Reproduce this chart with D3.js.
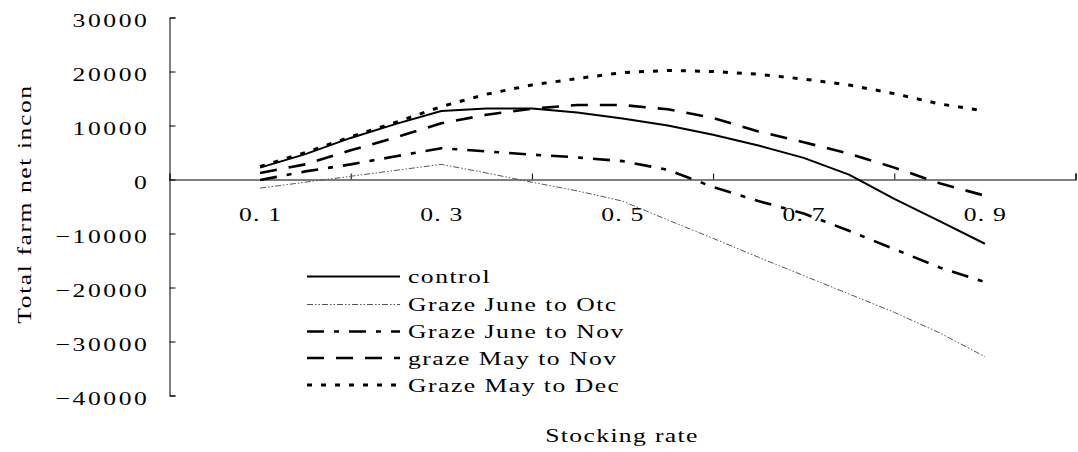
<!DOCTYPE html>
<html><head><meta charset="utf-8">
<script src="https://cdn.jsdelivr.net/npm/d3@7"></script>
<style>
body{margin:0;background:#fff;}
</style>
</head><body>
<svg id="chart" width="1078" height="452"></svg>
<script>
// ---- data ----
const rates = [0.1,0.15,0.2,0.25,0.3,0.35,0.4,0.45,0.5,0.55,0.6,0.65,0.7,0.75,0.8,0.85,0.9];
const control      = [2200,4700,7700,10300,12700,13150,13150,12400,11300,10000,8300,6300,4000,900,-3600,-7700,-11900];
const grazeJuneOtc = [-1600,-500,600,1700,2800,1200,-500,-2100,-4000,-7500,-10900,-14400,-17800,-21200,-24600,-28400,-32800];
const grazeJuneNov = [-100,1500,2800,4300,5800,5200,4600,4100,3400,1800,-1400,-4000,-6300,-9500,-12900,-16300,-19000];
const grazeMayNov  = [1200,2800,5400,7800,10400,12000,13100,13800,13800,13000,11400,8900,6900,4800,2200,-700,-3000];
const grazeMayDec  = [2400,5000,7900,10600,13500,15800,17500,18700,19800,20200,20000,19500,18600,17500,15900,14000,12700];
const seriesNames  = ["control","Graze June to Otc","Graze June to Nov","graze May to Nov","Graze May to Dec"];
const yTicks       = [30000,20000,10000,0,-10000,-20000,-30000,-40000];
const xTickMarks   = [0.2,0.4,0.6,0.8,1.0];
const xLabelValues = [0.1,0.3,0.5,0.7,0.9];
const xLabels      = ["0. 1","0. 3","0. 5","0. 7","0. 9"];
const xTitle = "Stocking rate";
const yTitle = "Total farm net incon";

// ---- styles ----
const FONT = "'Liberation Serif', 'DejaVu Serif', serif";
const SX = 1.35;   // horizontal glyph stretch seen in the reference text
const styles = [
  {stroke:"#000", width:2,   dash:null},
  {stroke:"#555", width:1,   dash:"6,2,1.5,2,1.5,2"},
  {stroke:"#000", width:2.6, dash:"17,10,5,10"},
  {stroke:"#000", width:2.6, dash:"17,12"},
  {stroke:"#000", width:3,   dash:"5,9"}
];

const seriesValues = [control, grazeJuneOtc, grazeJuneNov, grazeMayNov, grazeMayDec];

const svg = d3.select("#chart");
const x = d3.scaleLinear().domain([0,1]).range([169.5,1075.5]);
const y = d3.scaleLinear().domain([-40000,30000]).range([395.5,17.5]);

function fontify(sel, ls){
  sel.style("font-family", FONT).style("font-size","19px")
     .style("letter-spacing", ls+"px").style("fill","#000");
}

// y axis
const yAxis = svg.append("g").attr("transform","translate(169.5,0)")
  .call(d3.axisLeft(y).tickValues(yTicks).tickSize(-6).tickPadding(16).tickFormat(d3.format("d")));
yAxis.attr("font-family",null).attr("font-size",null);
yAxis.select(".domain").attr("stroke","#000").attr("stroke-width",1);
yAxis.selectAll(".tick line").attr("stroke","#000");
yAxis.selectAll(".tick text").attr("dy","0.45em")
  .attr("x", -20/SX).attr("transform",`scale(${SX},1)`).call(fontify, 1.9);

// x axis at y=0
const xAxis = svg.append("g").attr("transform",`translate(0,${y(0)})`)
  .call(d3.axisBottom(x).tickValues(xTickMarks).tickSize(-6).tickFormat(""));
xAxis.select(".domain").attr("stroke","#000").attr("stroke-width",1.2);
xAxis.selectAll(".tick line").attr("stroke","#000");

const xLab = svg.append("g").attr("transform",`translate(0,${y(0)})`)
  .call(d3.axisBottom(x).tickValues(xLabelValues).tickSize(0).tickFormat((d,i)=>xLabels[i]));
xLab.attr("font-family",null).attr("font-size",null);
xLab.select(".domain").remove();
xLab.selectAll(".tick text").attr("dy",null).attr("y",42).attr("x",0)
  .attr("transform",`scale(${SX},1)`).call(fontify, 0.9);

// lines
const line = d3.line().x((d,i)=>x(rates[i])).y(d=>y(d));
seriesValues.forEach((vals,k)=>{
  const p = svg.append("path").datum(vals)
    .attr("d",line).attr("fill","none")
    .attr("stroke",styles[k].stroke).attr("stroke-width",styles[k].width)
    .attr("stroke-linejoin","round");
  if(styles[k].dash) p.attr("stroke-dasharray",styles[k].dash);
});

// legend
const legendY = [276.5,304.5,331.5,358,385];
const lg = svg.append("g");
seriesNames.forEach((name,k)=>{
  const l = lg.append("line").attr("x1",307).attr("x2",400)
    .attr("y1",legendY[k]).attr("y2",legendY[k])
    .attr("stroke",styles[k].stroke).attr("stroke-width",styles[k].width);
  if(styles[k].dash) l.attr("stroke-dasharray",styles[k].dash);
  lg.append("text").attr("transform",`translate(408,${legendY[k]+6.5}) scale(${SX},1)`)
    .text(name).call(fontify, 1.1);
});

// titles
svg.append("text").attr("transform",`translate(622,442) scale(${SX},1)`).attr("text-anchor","middle")
  .text(xTitle).call(fontify, 1.0);
svg.append("text").attr("transform",`translate(31,204) rotate(-90) scale(${SX},1)`).attr("text-anchor","middle")
  .text(yTitle).call(fontify, 1.15);
</script>
</body></html>
